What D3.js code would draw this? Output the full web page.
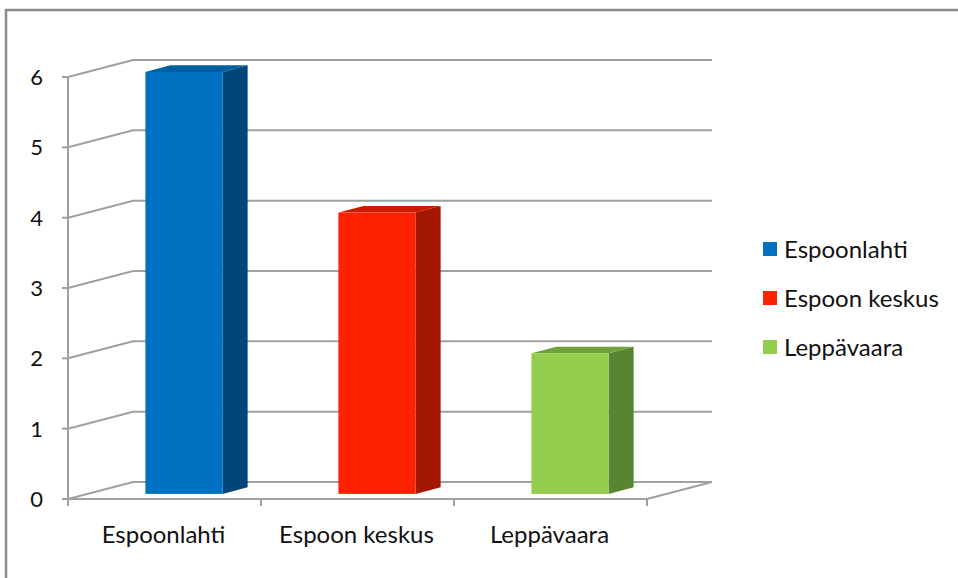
<!DOCTYPE html>
<html>
<head>
<meta charset="utf-8">
<script src="https://cdn.jsdelivr.net/npm/d3@7"></script>
<style>
  body { margin: 0; background: #fff; }
  svg { display: block; font-family: Lato, "Open Sans", sans-serif; }
</style>
</head>
<body>
<div id="chart"></div>
<script>
let categories = ["Espoonlahti", "Espoon keskus", "Leppävaara"];
let values = [6, 4, 2];
let yTicks = [0, 1, 2, 3, 4, 5, 6];
let colors = [
    { front: "#0070c0", side: "#00467a", top: "#005ea2" },
    { front: "#ff2200", side: "#a31600", top: "#cc1b00" },
    { front: "#92cd4d", side: "#578530", top: "#70a23c" }
];

let W = 958, H = 578;

// front plane of the plot
let x0 = 68, x1 = 647;
let yBottom = 499, yTop = 77;
// depth of the box (wall offset)
let depthX = 65, depthY = -17;
// bar position inside the depth
let barF = 0.3, barDepth = 0.385;

let svg = d3.select('#chart')
    .append('svg')
        .attr('width', W)
        .attr('height', H);

// outer frame
svg.append('path')
    .attr('d', "M6," + H + " L6,10 L" + W + ",10")
    .attr('fill', 'none')
    .attr('stroke', '#8c8c8c')
    .attr('stroke-width', 2.5);

let x = d3.scaleBand().domain(categories).range([x0, x1]);
let y = d3.scaleLinear().domain([0, 6]).range([yBottom, yTop]);

let grid = svg.append('g')
    .attr('stroke', '#a0a0a0')
    .attr('stroke-width', 2)
    .attr('fill', 'none');

// back wall gridlines + wall diagonals
yTicks.forEach(function (t) {
    grid.append('path')
        .attr('d', "M" + x0 + "," + y(t) +
            " L" + (x0 + depthX) + "," + (y(t) + depthY) +
            " L" + (x1 + depthX) + "," + (y(t) + depthY));
});

// floor front edge and right diagonal
grid.append('path')
    .attr('d', "M" + x0 + "," + yBottom + " L" + x1 + "," + yBottom +
        " L" + (x1 + depthX) + "," + (yBottom + depthY));

// y axis line and ticks
grid.append('line')
    .attr('x1', x0).attr('x2', x0)
    .attr('y1', y(6)).attr('y2', yBottom);
yTicks.forEach(function (t) {
    grid.append('line')
        .attr('x1', x0 - 6).attr('x2', x0)
        .attr('y1', y(t)).attr('y2', y(t));
});

// category ticks
let catEdges = categories.map(function (c) { return x(c); }).concat([x1]);
catEdges.forEach(function (cx) {
    grid.append('line')
        .attr('x1', cx).attr('x2', cx)
        .attr('y1', yBottom).attr('y2', yBottom + 7);
});

// y labels
svg.append('g').selectAll('text')
    .data(yTicks)
    .enter()
    .append('text')
        .attr('x', 43)
        .attr('y', function (d) { return y(d); })
        .attr('dy', '0.36em')
        .attr('text-anchor', 'end')
        .attr('font-size', '22px')
        .attr('fill', '#111')
        .text(function (d) { return d; });

// category labels
svg.append('g').selectAll('text')
    .data(categories)
    .enter()
    .append('text')
        .attr('x', function (d) { return x(d) + x.bandwidth() / 2 - 1; })
        .attr('y', 543)
        .attr('text-anchor', 'middle')
        .attr('font-size', '24px')
        .attr('fill', '#111')
        .text(function (d) { return d; });

// 3D bars
let barW = x.bandwidth() * 0.4;
let fx = depthX * barF, fy = depthY * barF;
let dx = depthX * barDepth, dy = depthY * barDepth;

let bars = svg.append('g').selectAll('g')
    .data(categories)
    .enter()
    .append('g');

bars.each(function (c, i) {
    let g = d3.select(this);
    let left = x(c) + (x.bandwidth() - barW) / 2 + fx;
    let right = left + barW;
    let bot = y(0) + fy;
    let top = y(values[i]) + fy;

    // side face
    g.append('path')
        .attr('d', "M" + right + "," + bot + " L" + (right + dx) + "," + (bot + dy) +
            " L" + (right + dx) + "," + (top + dy) + " L" + right + "," + top + "Z")
        .attr('fill', colors[i].side);
    // top face
    g.append('path')
        .attr('d', "M" + left + "," + top + " L" + right + "," + top +
            " L" + (right + dx) + "," + (top + dy) + " L" + (left + dx) + "," + (top + dy) + "Z")
        .attr('fill', colors[i].top);
    // front face
    g.append('rect')
        .attr('x', left)
        .attr('y', top)
        .attr('width', barW)
        .attr('height', bot - top)
        .attr('fill', colors[i].front);
});

// legend
let legend = svg.append('g').selectAll('g')
    .data(categories)
    .enter()
    .append('g')
        .attr('transform', function (d, i) { return "translate(763," + (249 + i * 49) + ")"; });

legend.append('rect')
    .attr('x', 0)
    .attr('y', -7)
    .attr('width', 14)
    .attr('height', 14)
    .attr('fill', function (d, i) { return colors[i].front; });

legend.append('text')
    .attr('x', 21)
    .attr('dy', '0.36em')
    .attr('font-size', '24px')
    .attr('fill', '#111')
    .text(function (d) { return d; });
</script>
</body>
</html>
